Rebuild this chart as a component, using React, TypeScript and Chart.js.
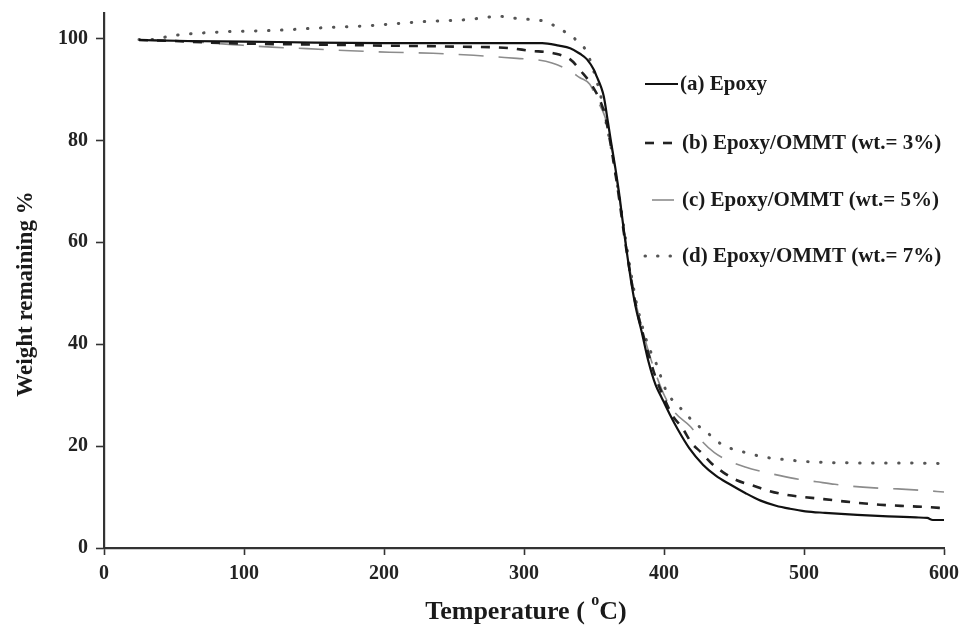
import React, { useEffect, useRef } from "react";
import { Chart, registerables } from "chart.js";

Chart.register(...registerables);

// ---- data ----
const tempA = [25, 60, 100, 150, 200, 250, 300, 313, 325, 333, 340, 345, 350, 352, 355, 357, 360, 362, 365, 368, 371, 374, 377, 380, 384, 389, 394, 398, 404, 410, 418, 428, 437, 447, 458, 469, 480, 490, 501, 515, 538, 560, 580, 588, 592, 600];
const weightA = [99.7, 99.5, 99.4, 99.2, 99.1, 99.1, 99.1, 99.1, 98.6, 98.1, 97.0, 95.9, 93.8, 92.5, 90.5, 88.6, 83.5, 80.0, 75.0, 69.5, 63.0, 57.0, 51.5, 47.0, 42.5, 36.5, 32.0, 29.7, 26.3, 23.2, 19.6, 16.3, 14.2, 12.5, 10.8, 9.3, 8.3, 7.7, 7.2, 6.9, 6.5, 6.2, 6.0, 5.9, 5.5, 5.5];

const tempB = [25, 50, 75, 100, 150, 200, 250, 290, 304, 321, 333, 341, 349, 356, 359, 362, 365, 368, 371, 374, 377, 380, 384, 389, 394, 400, 406, 413, 420, 426, 434, 442, 452, 464, 475, 488, 500, 514, 530, 554, 575, 590, 600];
const weightB = [99.7, 99.5, 99.2, 99.0, 98.8, 98.6, 98.4, 98.1, 97.6, 97.1, 95.9, 93.5, 90.6, 86.6, 83.5, 79.0, 74.0, 68.5, 62.5, 57.0, 52.0, 47.5, 43.0, 38.0, 33.5, 29.5, 26.0, 23.6, 20.5, 18.9, 16.6, 14.9, 13.3, 12.2, 11.2, 10.4, 10.0, 9.6, 9.1, 8.5, 8.2, 8.0, 7.8];

const tempC = [25, 60, 92, 120, 145, 176, 204, 235, 264, 295, 310, 320, 331, 340, 347, 353, 358, 362, 365, 368, 371, 374, 377, 380, 384, 389, 395, 401, 408, 419, 427, 436, 447, 458, 470, 483, 496, 509, 522, 535, 550, 567, 585, 600];
const weightC = [99.7, 99.4, 98.8, 98.3, 98.0, 97.6, 97.3, 97.1, 96.7, 96.1, 95.8, 95.2, 93.9, 92.3, 91.0, 87.5, 84.5, 79.5, 74.5, 69.0, 63.0, 57.5, 52.5, 48.0, 43.5, 38.5, 33.5, 29.5, 26.5, 23.8, 21.0, 18.7, 17.0, 15.9, 15.0, 14.2, 13.5, 13.0, 12.5, 12.1, 11.8, 11.6, 11.3, 11.0];

const tempD = [25, 33, 50, 85, 123, 156, 188, 228, 259, 275, 281, 290, 300, 306, 314, 321, 328, 334, 339, 344, 347, 351, 355, 359, 362, 365, 368, 371, 374, 377, 380, 384, 389, 394, 402, 411, 421, 431, 442, 456, 464, 475, 488, 500, 514, 540, 570, 597];
const weightD = [99.8, 99.8, 100.6, 101.3, 101.6, 102.1, 102.5, 103.3, 103.7, 104.2, 104.4, 104.1, 103.8, 103.7, 103.4, 102.6, 101.5, 100.5, 99.2, 97.8, 95.9, 92.5, 88.5, 83.0, 79.0, 74.0, 69.0, 63.5, 58.0, 53.0, 48.5, 44.0, 39.5, 36.5, 30.6, 27.7, 24.8, 22.6, 20.2, 18.9, 18.3, 17.7, 17.3, 17.0, 16.8, 16.7, 16.7, 16.6];

const seriesLabels = [
  "(a) Epoxy",
  "(b) Epoxy/OMMT (wt.= 3%)",
  "(c) Epoxy/OMMT (wt.= 5%)",
  "(d) Epoxy/OMMT (wt.= 7%)",
];
const xTickValues = [0, 100, 200, 300, 400, 500, 600];
const yTickValues = [0, 20, 40, 60, 80, 100];
const xTitle = ["Temperature ( ", "o", "C)"];
const yTitle = "Weight remaining %";

const SERIF = "'Liberation Serif', 'Times New Roman', serif";

const toPoints = (xs: number[], ys: number[]) => xs.map((x, i) => ({ x, y: ys[i] }));

const decorPlugin = {
  id: "decor",
  afterDraw(chart: any) {
    const ctx = chart.ctx as CanvasRenderingContext2D;
    ctx.save();
    // legend
    const rows = [84, 143, 200, 256];
    const styles = [
      { color: "#111", width: 2.2, dash: [] as number[], x0: 645, x1: 678, cap: "butt" },
      { color: "#222", width: 2.6, dash: [9, 9], x0: 645, x1: 678, cap: "butt" },
      { color: "#8c8c8c", width: 1.6, dash: [] as number[], x0: 652, x1: 674, cap: "butt" },
      { color: "#555", width: 3, dash: [0.5, 12], x0: 645, x1: 672, cap: "round" },
    ];
    rows.forEach((y, i) => {
      const s = styles[i];
      ctx.beginPath();
      ctx.strokeStyle = s.color;
      ctx.lineWidth = s.width;
      ctx.setLineDash(s.dash);
      ctx.lineCap = s.cap as CanvasLineCap;
      ctx.moveTo(s.x0, y);
      ctx.lineTo(s.x1, y);
      ctx.stroke();
      ctx.setLineDash([]);
      ctx.fillStyle = "#1a1a1a";
      ctx.font = `bold 21px ${SERIF}`;
      ctx.textAlign = "left";
      ctx.textBaseline = "middle";
      ctx.fillText(seriesLabels[i], i === 0 ? 680 : 682, y + 1);
    });

    // y title
    ctx.save();
    ctx.translate(26, 294);
    ctx.rotate(-Math.PI / 2);
    ctx.font = `bold 23px ${SERIF}`;
    ctx.fillStyle = "#1a1a1a";
    ctx.textAlign = "center";
    ctx.textBaseline = "middle";
    ctx.fillText(yTitle, 0, 0);
    ctx.restore();

    // x title with superscript
    ctx.font = `bold 26px ${SERIF}`;
    const w1 = ctx.measureText(xTitle[0]).width;
    const w3 = ctx.measureText(xTitle[2]).width;
    ctx.font = `bold 16px ${SERIF}`;
    const w2 = ctx.measureText(xTitle[1]).width;
    const total = w1 + w2 + w3;
    let x = 526 - total / 2;
    const base = 619;
    ctx.fillStyle = "#1a1a1a";
    ctx.textAlign = "left";
    ctx.textBaseline = "alphabetic";
    ctx.font = `bold 26px ${SERIF}`;
    ctx.fillText(xTitle[0], x, base);
    x += w1;
    ctx.font = `bold 16px ${SERIF}`;
    ctx.fillText(xTitle[1], x, base - 14);
    x += w2;
    ctx.font = `bold 26px ${SERIF}`;
    ctx.fillText(xTitle[2], x, base);
    ctx.restore();
  },
};

export default function App() {
  const ref = useRef<HTMLCanvasElement | null>(null);
  useEffect(() => {
    if (!ref.current) return;
    const chart = new Chart(ref.current, {
      type: "line",
      data: {
        datasets: [
          {
            label: seriesLabels[0],
            data: toPoints(tempA, weightA),
            borderColor: "#111",
            borderWidth: 2.2,
          },
          {
            label: seriesLabels[1],
            data: toPoints(tempB, weightB),
            borderColor: "#222",
            borderWidth: 2.6,
            borderDash: [9, 9],
          },
          {
            label: seriesLabels[2],
            data: toPoints(tempC, weightC),
            borderColor: "#8c8c8c",
            borderWidth: 1.6,
            borderDash: [25, 15],
          },
          {
            label: seriesLabels[3],
            data: toPoints(tempD, weightD),
            borderColor: "#555",
            borderWidth: 3,
            borderDash: [0.5, 12.5],
            borderCapStyle: "round",
          },
        ] as any,
      },
      options: {
        animation: false,
        responsive: false,
        maintainAspectRatio: false,
        elements: {
          point: { radius: 0 },
          line: { cubicInterpolationMode: "monotone", fill: false },
        },
        layout: { padding: { left: 0, top: 13, right: 16, bottom: 0 } },
        plugins: {
          legend: { display: false },
          tooltip: { enabled: false },
          title: { display: false },
        },
        scales: {
          x: {
            type: "linear",
            min: 0,
            max: 600,
            afterFit: (s: any) => {
              s.height = 77;
              s.paddingLeft = 0;
              s.paddingRight = 0;
            },
            afterBuildTicks: (s: any) => {
              s.ticks = xTickValues.map((v) => ({ value: v }));
            },
            border: { display: true, color: "#333", width: 2.2 },
            grid: {
              display: true,
              drawOnChartArea: false,
              drawTicks: true,
              tickLength: 7,
              tickColor: "#333",
              tickWidth: 1.6,
            },
            ticks: {
              color: "#222",
              padding: 7,
              font: { family: SERIF, size: 20, weight: "bold" },
              maxRotation: 0,
            },
          },
          y: {
            type: "linear",
            min: 0,
            max: 105,
            afterFit: (s: any) => {
              s.width = 104;
              s.paddingTop = 0;
              s.paddingBottom = 0;
            },
            afterBuildTicks: (s: any) => {
              s.ticks = yTickValues.map((v) => ({ value: v }));
            },
            border: { display: true, color: "#333", width: 2.2 },
            grid: {
              display: true,
              drawOnChartArea: false,
              drawTicks: true,
              tickLength: 8,
              tickColor: "#333",
              tickWidth: 1.6,
            },
            ticks: {
              color: "#222",
              padding: 8,
              font: { family: SERIF, size: 20, weight: "bold" },
            },
          },
        },
      } as any,
      plugins: [decorPlugin],
    });
    return () => chart.destroy();
  }, []);
  return (
    <div style={{ position: "fixed", left: 0, top: 0, width: 960, height: 625, background: "#fff" }}>
      <canvas ref={ref} width={960} height={625} style={{ width: 960, height: 625, display: "block" }} />
    </div>
  );
}
